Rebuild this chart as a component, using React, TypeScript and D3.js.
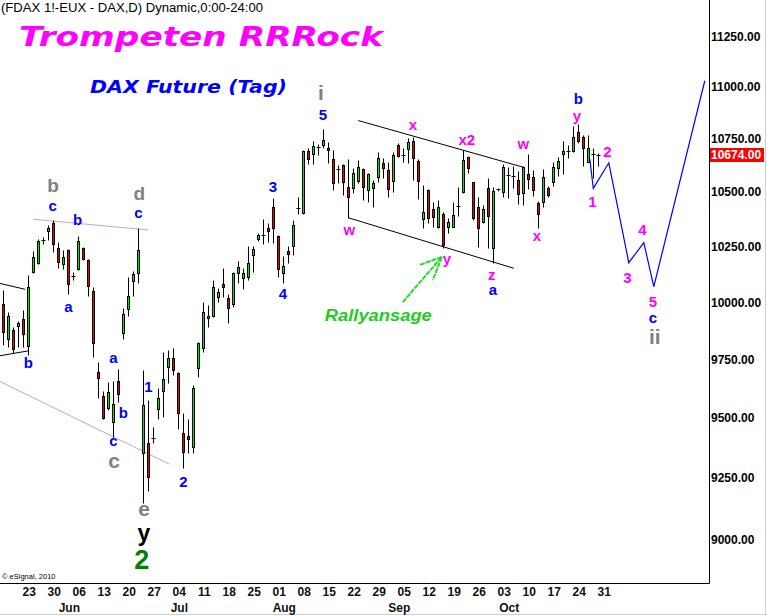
import React from 'react';
import * as d3 from 'd3';

const W = 767;
const H = 616;

// Daily OHLC, index 0 = Mon 16 May 2016
const opens = [9992,9838,9878,9896,9926,9808,10135,10176,10276,10321,10358,10244,10171,10235,10117,10148,10244,10189,10050,9696,9593,9542,9483,9658,9865,9970,10095,10130,9354,9396,9414,9538,9615,9718,9757,9692,9437,9425,9379,9713,9799,9931,9940,10024,10081,10019,9992,10130,10108,10112,10212,10285,10297,10335,10432,10299,10130,10230,10253,10425,10404,10693,10679,10710,10722,10708,10656,10607,10628,10524,10519,10552,10609,10510,10519,10571,10637,10604,10552,10722,10673,10703,10741,10646,10377,10510,10423,10340,10400,10340,10340,10430,10501,10665,10547,10432,10363,10519,10244,10512,10501,10578,10582,10557,10496,10585,10571,10450,10455,10519,10547,10614,10679,10691,10693,10784,10760,10642,10677,10676];
const highs = [10055,9957,9891,9918,9966,10121,10230,10285,10294,10349,10372,10271,10235,10239,10135,10299,10248,10194,10068,9739,9615,9653,9658,9709,9975,10112,10139,10335,9705,9576,9462,9628,9782,9791,9799,9695,9521,9495,9640,9825,10001,9988,10099,10064,10153,10037,10135,10185,10153,10253,10253,10312,10377,10358,10471,10302,10207,10253,10372,10478,10698,10708,10741,10727,10799,10736,10698,10628,10630,10656,10614,10651,10614,10590,10557,10689,10661,10642,10689,10732,10708,10755,10760,10656,10533,10515,10455,10464,10409,10381,10455,10524,10698,10670,10550,10478,10441,10566,10524,10518,10632,10618,10623,10599,10623,10679,10604,10460,10609,10529,10642,10665,10741,10722,10813,10823,10770,10770,10708,10684];
const lows = [9812,9804,9778,9804,9804,9770,10130,10171,10262,10280,10226,10153,10148,10037,10099,10144,10189,10028,9761,9585,9495,9534,9421,9568,9838,9940,10028,10086,9149,9198,9396,9495,9504,9649,9683,9454,9291,9354,9354,9675,9782,9891,9935,10001,10024,9909,9979,10086,10059,10099,10135,10276,10262,10271,10267,10112,10086,10176,10212,10400,10400,10632,10632,10675,10708,10637,10510,10543,10487,10381,10496,10543,10464,10455,10432,10547,10566,10478,10501,10665,10642,10637,10557,10469,10335,10358,10340,10335,10244,10312,10338,10390,10496,10590,10372,10248,10358,10244,10176,10508,10478,10473,10519,10446,10441,10515,10483,10335,10432,10478,10529,10576,10585,10661,10689,10732,10623,10640,10566,10623];
const closes = [9869,9940,9795,9909,9860,10068,10203,10276,10278,10335,10262,10180,10203,10081,10118,10276,10194,10072,9821,9670,9499,9610,9559,9602,9948,10028,10126,10235,9555,9255,9418,9585,9666,9757,9705,9521,9358,9412,9628,9821,9957,9940,10068,10046,10068,9975,10130,10158,10130,10176,10239,10303,10301,10321,10335,10148,10162,10216,10349,10429,10693,10656,10717,10714,10746,10698,10543,10611,10547,10478,10590,10618,10524,10585,10543,10661,10614,10515,10675,10670,10677,10736,10661,10552,10409,10381,10386,10432,10258,10363,10395,10434,10651,10614,10381,10335,10423,10390,10506,10515,10618,10582,10578,10492,10618,10562,10510,10400,10571,10487,10618,10646,10693,10695,10760,10741,10708,10708,10681,10674];

const lastPrice = 10674;
const priceTicks = [9000, 9250, 9500, 9750, 10000, 10250, 10500, 10750, 11000, 11250];
const dayLabels = ['23','30','06','13','20','27','04','11','18','25','01','08','15','22','29','05','12','19','26','03','10','17','24','31'];
const dayLabelIndex = [5,10,15,20,25,30,35,40,45,50,55,60,65,70,75,80,85,90,95,100,105,110,115,120];
const monthLabels = ['Jun','Jul','Aug','Sep','Oct'];
const monthIndex = [12,34,55,78,100];

// Elliott-wave projection (index, price)
const projIndex = [117.3, 118, 121.1, 125.1, 128.1, 130.1, 140.3];
const projPrice = [10656, 10518, 10638, 10177, 10268, 10070, 11032];

// Wave labels: text, index, price, style
const waveLabels: [string, number, number, string][] = [
  ['b', 9.94, 10533, 'grayM'],
  ['c', 9.88, 10439, 'blue'],
  ['b', 14.88, 10372, 'blue'],
  ['a', 13, 9980, 'blue'],
  ['b', 5, 9736, 'blue'],
  ['a', 22, 9757, 'blue'],
  ['b', 24, 9521, 'blue'],
  ['c', 22, 9405, 'blue'],
  ['c', 22.14, 9322, 'grayL'],
  ['d', 27.2, 10494, 'grayM'],
  ['c', 27, 10405, 'blue'],
  ['1', 29, 9633, 'blue'],
  ['2', 36, 9236, 'blue'],
  ['e', 28.14, 9126, 'grayL'],
  ['y', 28.14, 9030, 'black'],
  ['2', 27.7, 8924, 'green'],
  ['3', 53.9, 10525, 'blue'],
  ['4', 55.9, 10040, 'blue'],
  ['5', 63.9, 10866, 'blue'],
  ['i', 63.5, 10972, 'grayL'],
  ['w', 69.2, 10329, 'mag'],
  ['x', 81.9, 10818, 'mag'],
  ['x2', 92.7, 10746, 'mag'],
  ['y', 88.7, 10197, 'mag'],
  ['z', 97.7, 10124, 'mag'],
  ['a', 97.9, 10055, 'blue'],
  ['w', 104, 10726, 'mag'],
  ['x', 106.7, 10299, 'mag'],
  ['b', 115, 10942, 'blue'],
  ['y', 114.7, 10862, 'mag'],
  ['2', 120.8, 10690, 'mag'],
  ['1', 117.8, 10456, 'mag'],
  ['3', 124.8, 10111, 'mag'],
  ['4', 127.8, 10326, 'mag'],
  ['5', 129.9, 10003, 'mag'],
  ['c', 129.9, 9930, 'blue'],
  ['ii', 130.3, 9850, 'grayL'],
];

// Trend lines: i1, p1, i2, p2, style
const trendLines: [number, number, number, number, string][] = [
  [-0.66, 10084, 4.34, 10058, 'black'],
  [-0.66, 9766, 5, 9787, 'black'],
  [6, 10375, 29, 10326, 'thin'],
  [-0.66, 9655, 33.2, 9308, 'thin'],
  [71, 10839, 104, 10617, 'black'],
  [69, 10382, 102.1, 10152, 'black'],
];

// Green arrow (Rallyansage)
const arrowShaft: [number, number, number, number] = [79.9, 10001, 87.7, 10203];
const arrowBarbs: [number, number][] = [[83.3, 10167], [85.9, 10099]];

const labelStyles: Record<string, { fill: string; size: number }> = {
  blue: { fill: '#0000ff', size: 15 },
  mag: { fill: '#ff00ff', size: 15 },
  grayM: { fill: '#808080', size: 19 },
  grayL: { fill: '#808080', size: 21 },
  black: { fill: '#000000', size: 23 },
  green: { fill: '#008000', size: 27 },
};

const FONT = '"Liberation Sans", Arial, sans-serif';

export default function App() {
  const x = d3.scaleLinear().domain([0, 119]).range([3.3, 598.3]);
  const y = d3.scaleLog().domain([9000, 11250]).range([540, 36.6]);
  const plotRight = 709.5;
  const plotBottom = 583.5;

  const px = (v: number) => Math.round(v) + 0.5;

  const candles = opens.map((o, i) => {
    const h = highs[i], l = lows[i], c = closes[i];
    const cx = Math.floor(x(i)) + 0.5;
    const yH = px(y(h)), yL = px(y(l));
    const yO = y(o), yC = y(c);
    const top = px(Math.min(yO, yC));
    const bot = px(Math.max(yO, yC));
    const up = c >= o;
    const doji = Math.abs(yO - yC) < 1.5;
    return (
      <g key={i}>
        <line x1={cx} x2={cx} y1={yH} y2={yL} stroke="#000" strokeWidth={1} />
        {doji ? (
          <line x1={cx - 2} x2={cx + 2} y1={px(yC)} y2={px(yC)} stroke="#000" strokeWidth={1} />
        ) : (
          <rect x={cx - 1} y={top} width={2} height={bot - top} fill={up ? '#00e600' : '#f00000'} stroke="#000" strokeWidth={1} />
        )}
      </g>
    );
  });

  const projLine = d3
    .line<number>()
    .x((_, i) => x(projIndex[i]))
    .y((_, i) => y(projPrice[i]))(projIndex);

  const yLast = y(lastPrice);

  return (
    <svg width={W} height={H} style={{ position: 'absolute', left: 0, top: 0, background: '#fff' }} fontFamily={FONT}>
      <rect x={0} y={0} width={W} height={H} fill="#fff" />
      <line x1={765.5} x2={765.5} y1={0} y2={H} stroke="#d0d0d0" />
      <line x1={0} x2={W} y1={614.5} y2={614.5} stroke="#d0d0d0" />

      {trendLines.map(([i1, p1, i2, p2, s], k) => (
        <line key={k} x1={x(i1)} y1={y(p1)} x2={x(i2)} y2={y(p2)}
          stroke={s === 'black' ? '#000' : '#c0a8c0'} strokeWidth={1} />
      ))}

      {candles}

      <path d={projLine || ''} fill="none" stroke="#0000ff" strokeWidth={1.2} />

      <g stroke="#22dd22" strokeWidth={2} strokeDasharray="5,1">
        <line x1={x(arrowShaft[0])} y1={y(arrowShaft[1])} x2={x(arrowShaft[2])} y2={y(arrowShaft[3])} />
        {arrowBarbs.map(([i, p], k) => (
          <line key={k} x1={x(arrowShaft[2])} y1={y(arrowShaft[3])} x2={x(i)} y2={y(p)} />
        ))}
      </g>
      <text x={x(75)} y={y(9944)} dy="0.35em" textAnchor="middle" fill="#22cc22" fontSize={16}
        fontWeight="bold" fontStyle="italic" textLength={107} lengthAdjust="spacingAndGlyphs">Rallyansage</text>

      {waveLabels.map(([t, i, p, s], k) => (
        <text key={k} x={x(i)} y={y(p)} dy="0.35em" textAnchor="middle" fill={labelStyles[s].fill}
          fontSize={labelStyles[s].size} fontWeight="bold">{t}</text>
      ))}

      <text x={1} y={12} fontSize={12} fill="#000" textLength={262} lengthAdjust="spacingAndGlyphs">(FDAX 1!-EUX - DAX,D) Dynamic,0:00-24:00</text>
      <text x={19} y={46} fontFamily='"DejaVu Sans", sans-serif' fontSize={26} fontWeight="bold" fontStyle="italic"
        fill="#ff00ff" textLength={364} lengthAdjust="spacingAndGlyphs">Trompeten RRRock</text>
      <text x={90} y={93} fontFamily='"DejaVu Sans", sans-serif' fontSize={18} fontWeight="bold" fontStyle="italic"
        fill="#0000ff" textLength={197} lengthAdjust="spacingAndGlyphs">DAX Future (Tag)</text>

      <line x1={plotRight} x2={plotRight} y1={0} y2={plotBottom} stroke="#000" />
      <line x1={0} x2={plotRight} y1={plotBottom} y2={plotBottom} stroke="#000" />

      {priceTicks.map((v) => (
        <text key={v} x={711} y={y(v)} dy="0.35em" fontSize={12} fontWeight="bold" fill="#000">
          {v.toFixed(2)}
        </text>
      ))}
      <rect x={710} y={Math.round(yLast) - 7} width={54} height={14} fill="#ff0000" />
      <text x={711} y={yLast} dy="0.36em" fontSize={12} fontWeight="bold" fill="#fff">{lastPrice.toFixed(2)}</text>

      {dayLabels.map((d, k) => (
        <text key={d + k} x={x(dayLabelIndex[k]) + 1} y={592} dy="0.35em" textAnchor="middle" fontSize={12}
          fontWeight="bold" fill="#101010">{d}</text>
      ))}
      {monthLabels.map((m, k) => (
        <text key={m} x={x(monthIndex[k]) + 6} y={608} dy="0.35em" textAnchor="middle" fontSize={12}
          fontWeight="bold" fill="#101010">{m}</text>
      ))}

      <text x={2} y={579} fontSize={7.5} fill="#000">© eSignal, 2010</text>
    </svg>
  );
}
